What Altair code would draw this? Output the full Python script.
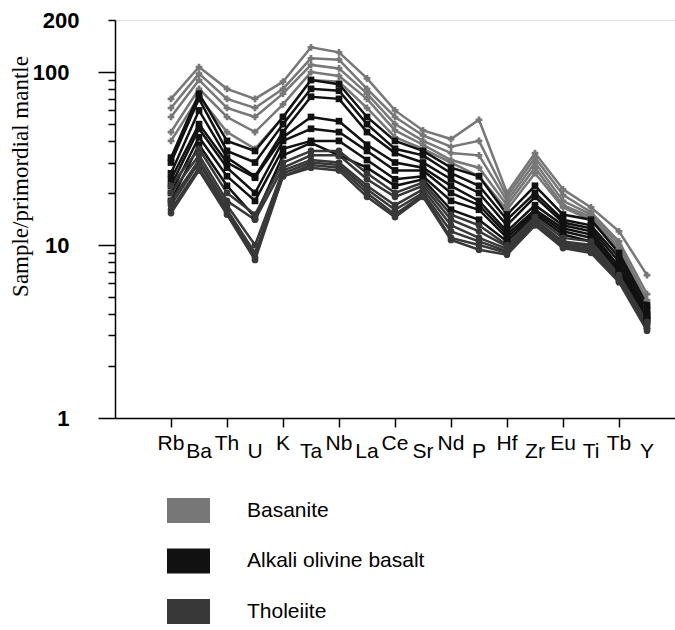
import altair as alt
import pandas as pd

elements = ["Rb", "Ba", "Th", "U", "K", "Ta", "Nb", "La", "Ce",
            "Sr", "Nd", "P", "Hf", "Zr", "Eu", "Ti", "Tb", "Y"]
positions = list(range(2, 20))
label_row = [0, 1] * 9  # 0 = upper label, 1 = lower label

rocks = ["Basanite", "Alkali olivine basalt", "Tholeiite"]
rock_colors = ["#777777", "#111111", "#383838"]
rock_shapes = ["cross", "square", "circle"]

basanite = [
    [70, 107, 80, 70, 88, 139, 130, 92, 60, 46, 41, 53, 20, 34, 21, 16.5, 12, 6.7],
    [62, 98, 70, 62, 80, 120, 118, 80, 55, 43, 37, 40, 19, 32, 19.5, 15.5, 10.5, 5.2],
    [55, 90, 62, 55, 75, 110, 105, 75, 50, 40, 34, 33, 18, 30, 18, 15, 10, 4.8],
    [45, 80, 55, 45, 65, 100, 95, 70, 46, 38, 31, 28, 17, 28, 17, 14.5, 9.5, 4.5],
    [40, 72, 45, 36, 55, 90, 88, 62, 42, 36, 30, 25, 16, 26, 16.5, 14, 9, 4.3],
]
alkali = [
    [32, 75, 40, 35, 55, 90, 85, 55, 40, 35, 28, 25, 15, 22, 15, 14, 9, 4.5],
    [30, 70, 35, 30, 50, 80, 78, 50, 36, 33, 26, 22, 14, 20, 14, 13, 8.5, 4.2],
    [26, 60, 32, 25, 45, 72, 70, 45, 34, 30, 24, 20, 13, 19, 13.5, 12.5, 8, 4.0],
    [24, 50, 30, 24.5, 42, 55, 52, 38, 30, 28, 22, 18, 12, 17, 13, 12, 7.5, 3.9],
    [22, 47, 28, 20, 40, 47, 45, 35, 27, 27, 20, 17, 11.5, 16, 12.5, 11.5, 7.2, 3.8],
    [20, 42, 25, 18, 36, 40, 40, 31, 24, 25, 18, 16, 11, 15.5, 12, 11, 7, 3.7],
    [18, 38, 22, 14.5, 33, 39, 33, 28, 22, 24, 16, 14, 10.5, 15, 11.5, 10.5, 6.8, 3.6],
]
tholeiite = [
    [22, 36, 20, 15, 30, 35, 35, 26, 20, 23, 15, 13, 10, 14.5, 11, 10.5, 6.7, 3.6],
    [20, 33, 18, 14, 28, 33, 33, 24, 19, 22, 14, 12, 9.8, 14, 10.5, 10, 6.5, 3.5],
    [18, 31, 17, 10, 27, 31, 30, 22, 17, 21, 13, 11, 9.5, 13.8, 10.2, 9.8, 6.4, 3.4],
    [17, 30, 16, 9, 26, 30, 29, 21, 16, 20, 12, 10.5, 9.2, 13.5, 10, 9.5, 6.3, 3.3],
    [16, 28, 15.5, 8.5, 25, 29, 28, 20, 15, 19.5, 11, 10, 9, 13.3, 9.8, 9.3, 6.2, 3.3],
    [15.3, 27, 15, 8.2, 25, 28, 27, 19, 14.5, 19, 10.7, 9.4, 8.8, 13, 9.6, 9, 6.1, 3.2],
]

rows = []
for rock, group in zip(rocks, [basanite, alkali, tholeiite]):
    for i, series in enumerate(group):
        for el, pos, v in zip(elements, positions, series):
            rows.append({"rock": rock, "series": f"{rock} {i + 1}",
                         "element": el, "pos": pos, "value": v})
df = pd.DataFrame(rows)
labels_df = pd.DataFrame({"element": elements, "pos": positions, "row": label_row})

W, H = 560, 398
tick_values = list(range(1, 10)) + list(range(10, 100, 10)) + [100, 200]

x_scale = alt.Scale(domain=[0, 20], nice=False, zero=False)
y_scale = alt.Scale(type="log", domain=[1, 200], nice=False)

x_enc = alt.X("pos:Q", scale=x_scale, axis=alt.Axis(
    values=positions, labels=False, title=None, grid=False,
    tickSize=9, tickColor="black", domainColor="black",
    tickWidth=1.5, domainWidth=1.5))
y_enc = alt.Y("value:Q", scale=y_scale, axis=alt.Axis(
    values=tick_values, grid=False, format="d",
    labelExpr="indexof([1, 10, 100, 200], datum.value) >= 0 ? datum.label : ''",
    tickSize={"condition": {"test": "indexof([1, 10, 100], datum.value) >= 0", "value": 17},
              "value": 7},
    labelPadding=29,
    tickColor="black", domainColor="black", tickWidth=1.5, domainWidth=1.5,
    labelFont="Liberation Sans", labelFontSize=22, labelFontWeight="bold",
    labelColor="black",
    title="Sample/primordial mantle", titleFont="Liberation Serif",
    titleFontSize=23, titleFontWeight="normal", titleColor="black",
    titleX=-95, titleY=156, titleAngle=-90, titleAlign="center",
    titleBaseline="middle"))

color_enc = alt.Color("rock:N", scale=alt.Scale(domain=rocks, range=rock_colors),
                      sort=rocks,
                      legend=alt.Legend(
                          title=None, orient="none", legendX=52, legendY=469,
                          symbolType="M-1,-0.58H1V0.58H-1Z", symbolSize=1849,
                          symbolStrokeWidth=0, symbolOpacity=1,
                          labelFont="Liberation Sans", labelFontSize=21,
                          labelColor="black", labelOffset=37, rowPadding=16.5,
                          labelLimit=400, padding=0))

# invisible filled layer that carries the filled legend patches
legend_carrier = alt.Chart(df).mark_square(filled=True, size=1, opacity=0).encode(
    x=x_enc, y=y_enc, color=color_enc)

lines = alt.Chart(df).mark_line(strokeWidth=2.5).encode(
    x=x_enc, y=y_enc, color=color_enc, detail="series:N")

point_layers = []
for rock, col, shp in zip(rocks, rock_colors, rock_shapes):
    point_layers.append(
        alt.Chart(df).transform_filter(alt.datum.rock == rock)
        .mark_point(filled=True, size=45, opacity=1, shape=shp, color=col)
        .encode(x=alt.X("pos:Q", scale=x_scale), y=alt.Y("value:Q", scale=y_scale))
    )

upper = alt.Chart(labels_df).transform_filter("datum.row == 0").mark_text(
    font="Liberation Sans", fontSize=21, color="black", baseline="middle"
).encode(x=alt.X("pos:Q", scale=x_scale), y=alt.value(H + 26), text="element:N")

lower = alt.Chart(labels_df).transform_filter("datum.row == 1").mark_text(
    font="Liberation Sans", fontSize=21, color="black", baseline="middle"
).encode(x=alt.X("pos:Q", scale=x_scale), y=alt.value(H + 34), text="element:N")

chart = alt.layer(legend_carrier, lines, *point_layers, upper, lower).properties(
    width=W, height=H,
    autosize=alt.AutoSizeParams(type="none"),
    padding={"left": 115, "top": 20, "right": 0, "bottom": 212},
).configure_view(stroke=None).configure(background="white")

chart.save("out.html", embed_options={"renderer": "svg", "actions": False})
